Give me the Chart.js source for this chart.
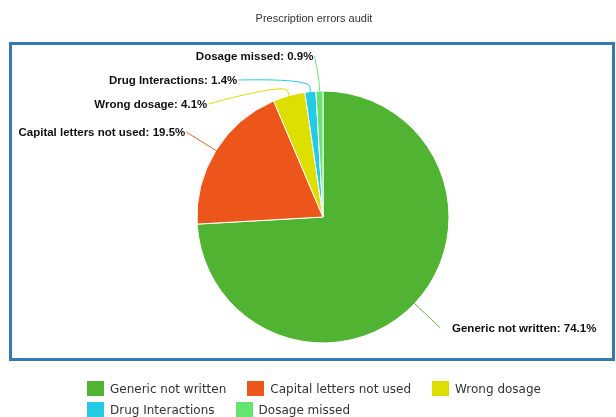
<!DOCTYPE html>
<html>
<head>
<meta charset="utf-8">
<title>Prescription errors audit</title>
<script src="https://cdn.jsdelivr.net/npm/chart.js@4.4.0/dist/chart.umd.min.js"></script>
<style>
  body { margin: 0; width: 616px; height: 417px; overflow: hidden; background: #fff; position: relative; }
  #pie { position: absolute; left: 0; top: 0; }
  #title { position: absolute; left: 0; top: 12px; width: 628px; text-align: center;
           font: 11px "Liberation Sans", Arial, sans-serif; color: #333; }
  #legend { position: absolute; left: 87px; top: 378px; width: 520px;
            font: 12px "DejaVu Sans", sans-serif; color: #333; }
  .item { display: inline-flex; align-items: center; margin-right: 21px; height: 21px; }
  .sw { width: 17px; height: 15px; margin-right: 6px; }
</style>
</head>
<body>
<canvas id="pie" width="616" height="417"></canvas>
<div id="title"></div>
<div id="legend"></div>
<script>
// Chart data
var chartTitle = 'Prescription errors audit';
var categories = ['Generic not written', 'Capital letters not used', 'Wrong dosage', 'Drug Interactions', 'Dosage missed'];
var shares = [74.1, 19.5, 4.1, 1.4, 0.9];
var sliceColors = ['#50B432', '#ED561B', '#DDDF00', '#24CBE5', '#64E572'];

document.getElementById('title').textContent = chartTitle;

// HTML legend, flowing left to right like the original
var legend = document.getElementById('legend');
categories.forEach(function (name, i) {
    var item = document.createElement('span');
    item.className = 'item';
    var sw = document.createElement('span');
    sw.className = 'sw';
    sw.style.background = sliceColors[i];
    item.appendChild(sw);
    item.appendChild(document.createTextNode(name));
    legend.appendChild(item);
});

// blue frame + outside labels with connectors
var pieLabels = {
    id: 'pieLabels',
    beforeDraw: function (chart) {
        var ctx = chart.ctx;
        ctx.save();
        ctx.strokeStyle = '#3479b0';
        ctx.lineWidth = 3;
        ctx.strokeRect(10.5, 43.5, 603, 316);
        ctx.restore();
    },
    afterDatasetsDraw: function (chart) {
        var ctx = chart.ctx;
        var arcs = chart.getDatasetMeta(0).data;
        var items = [];
        arcs.forEach(function (arc, i) {
            var p = arc.getProps(['x', 'y', 'startAngle', 'endAngle', 'outerRadius'], true);
            var mid = (p.startAngle + p.endAngle) / 2;
            var R = p.outerRadius + 35;
            items.push({
                i: i, cx: p.x, cy: p.y, r: p.outerRadius, R: R,
                cos: Math.cos(mid), sin: Math.sin(mid),
                left: Math.cos(mid) < 0,
                y: p.y + R * Math.sin(mid)
            });
        });
        // push overlapping labels apart on each side
        [true, false].forEach(function (side) {
            var list = items.filter(function (it) { return it.left === side; })
                            .sort(function (a, b) { return a.y - b.y; });
            for (var k = 1; k < list.length; k++) {
                if (list[k].y < list[k - 1].y + 24) list[k].y = list[k - 1].y + 24;
            }
        });
        ctx.save();
        ctx.font = 'bold 11.5px "Liberation Sans", Arial, sans-serif';
        ctx.textBaseline = 'middle';
        items.forEach(function (it) {
            var ax = it.cx + it.r * it.cos, ay = it.cy + it.r * it.sin;
            var bx = it.cx + (it.r + 5) * it.cos, by = it.cy + (it.r + 5) * it.sin;
            var qx = it.cx + (it.r + 14) * it.cos, qy = it.cy + (it.r + 14) * it.sin;
            var dy = it.y - it.cy;
            var dx = Math.sqrt(Math.max(it.R * it.R - dy * dy, 0));
            var lx = it.left ? Math.min(it.cx - dx, ax - 5) : Math.max(it.cx + dx, ax + 5);

            ctx.strokeStyle = sliceColors[it.i];
            ctx.lineWidth = 1;
            ctx.beginPath();
            ctx.moveTo(lx, it.y);
            ctx.bezierCurveTo(lx, it.y, qx, qy, bx, by);
            ctx.lineTo(ax, ay);
            ctx.stroke();

            ctx.fillStyle = '#111';
            var text = categories[it.i] + ': ' + shares[it.i].toFixed(1) + '%';
            if (it.left) {
                ctx.textAlign = 'right';
                ctx.fillText(text, lx - 1, it.y + 1);
            } else {
                ctx.textAlign = 'left';
                ctx.fillText(text, lx + 12, it.y + 1);
            }
        });
        ctx.restore();
    }
};

var ctx = document.getElementById('pie').getContext('2d');
var pieChart = new Chart(ctx, {
    type: 'pie',
    data: {
        labels: categories,
        datasets: [{
            data: shares,
            backgroundColor: sliceColors,
            borderColor: '#ffffff',
            borderWidth: 1,
            hoverOffset: 0,
            radius: 126
        }]
    },
    options: {
        responsive: false,
        animation: false,
        events: [],
        layout: { padding: { left: 30, right: 0, top: 17, bottom: 0 } },
        plugins: {
            legend: { display: false },
            tooltip: { enabled: false },
            title: { display: false }
        }
    },
    plugins: [pieLabels]
});
</script>
</body>
</html>
